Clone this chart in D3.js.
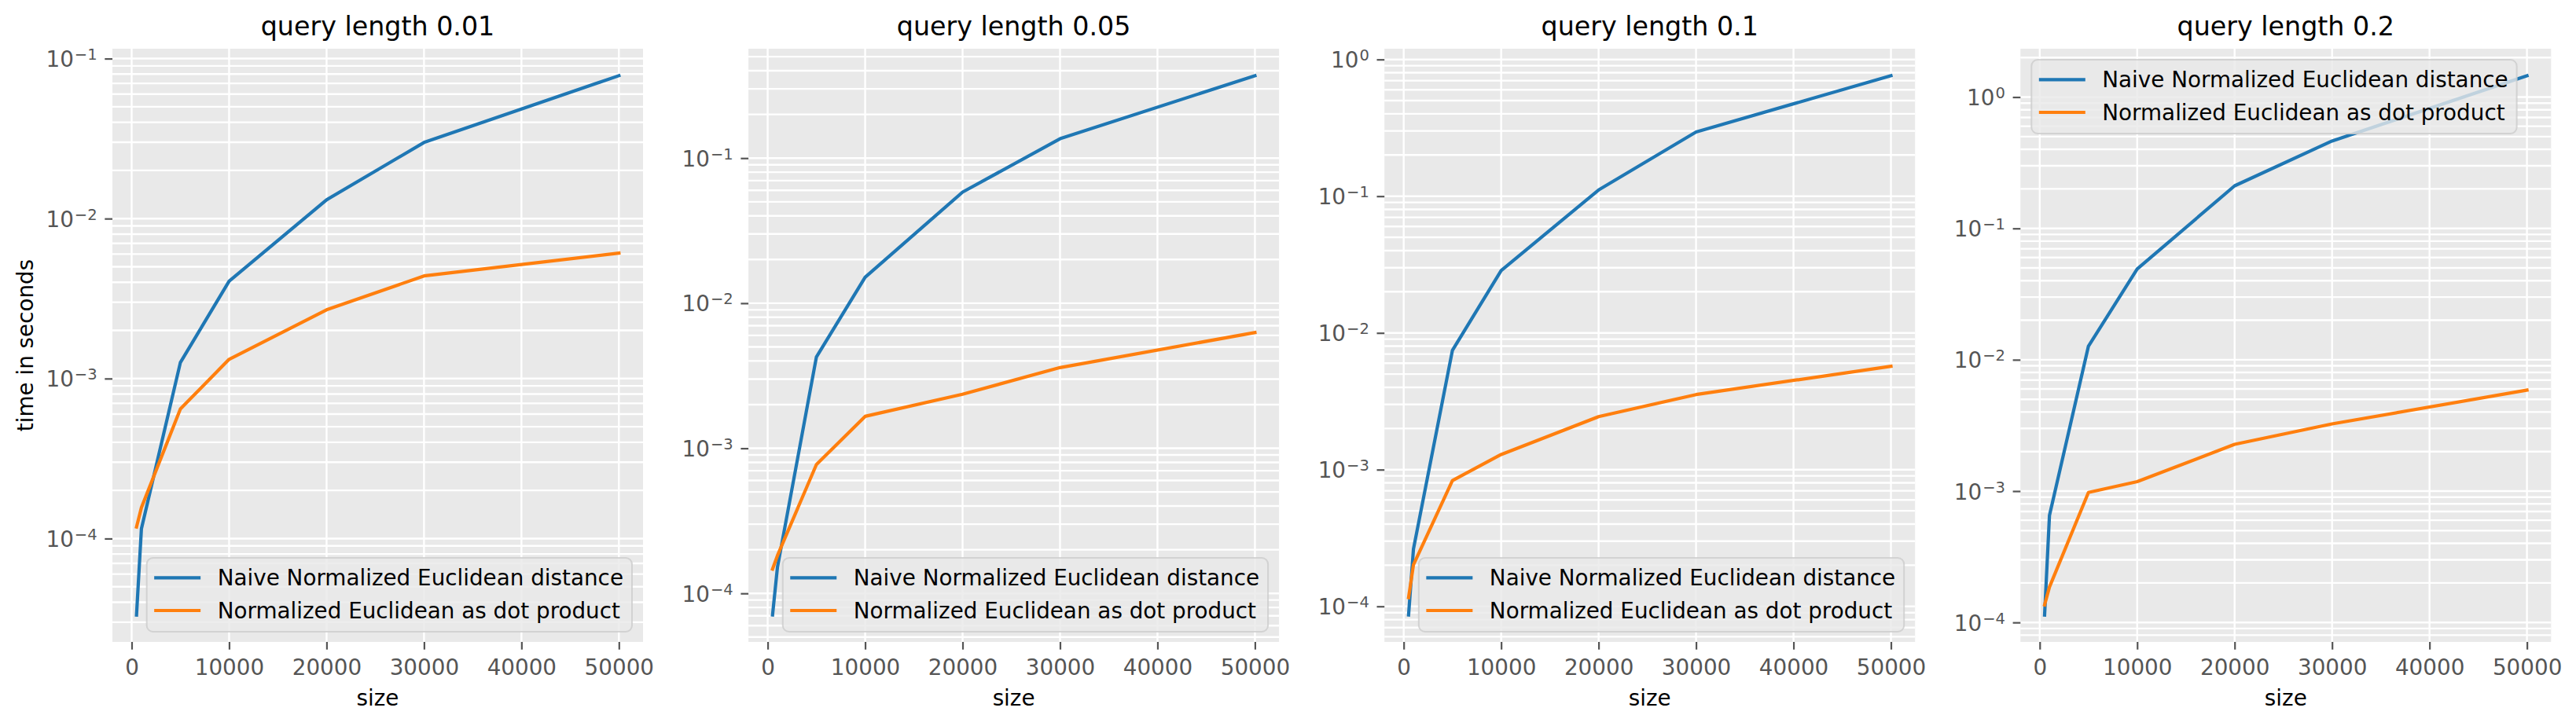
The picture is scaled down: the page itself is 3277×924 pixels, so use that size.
<!DOCTYPE html>
<html>
<head>
<meta charset="utf-8">
<script src="https://cdn.jsdelivr.net/npm/d3@7"></script>
<style>
  html, body { margin: 0; padding: 0; background: #ffffff; }
  svg { display: block; font-family: "DejaVu Sans", sans-serif; }
</style>
</head>
<body>
<div id="chart"></div>
<script>
// ---------------- data ----------------
const sizes = [500, 1000, 5000, 10000, 20000, 30000, 50000];
const queryLengths = ["0.01", "0.05", "0.1", "0.2"];
const seriesNames = ["Naive Normalized Euclidean distance", "Normalized Euclidean as dot product"];

const naive_001 = [3.33e-5, 1.15e-4, 1.26e-3, 4.06e-3, 1.31e-2, 2.99e-2, 7.82e-2];
const dot_001   = [1.18e-4, 1.56e-4, 6.46e-4, 1.32e-3, 2.69e-3, 4.38e-3, 6.08e-3];

const naive_005 = [7.1e-5, 1.51e-4, 4.26e-3, 1.51e-2, 5.83e-2, 0.136, 0.370];
const dot_005   = [1.47e-4, 1.82e-4, 7.73e-4, 1.66e-3, 2.36e-3, 3.60e-3, 6.28e-3];

const naive_01 = [8.65e-5, 2.62e-4, 7.46e-3, 2.86e-2, 0.111, 0.295, 0.761];
const dot_01   = [1.16e-4, 2.01e-4, 8.31e-4, 1.29e-3, 2.44e-3, 3.54e-3, 5.70e-3];

const naive_02 = [1.14e-4, 6.52e-4, 1.27e-2, 4.91e-2, 0.211, 0.463, 1.455];
const dot_02   = [1.36e-4, 1.86e-4, 9.76e-4, 1.18e-3, 2.27e-3, 3.25e-3, 5.87e-3];

const xTickValues = [0, 10000, 20000, 30000, 40000, 50000];
const xLabel = "size";
const yLabel = "time in seconds";

const panelSeries = [
  [naive_001, dot_001],
  [naive_005, dot_005],
  [naive_01, dot_01],
  [naive_02, dot_02]
];

// ---------------- style / layout ----------------
const W = 3277, H = 924;
const colors = ["#1f77b4", "#ff7f0e"];
const legendLoc = ["lower right", "lower right", "lower right", "upper left"];
const panelLeft0 = 143, panelStep = 809.1, panelW = 675;
const plotTop = 62, plotBottom = 817;
const bg = "#E9E9E9";
const tickColor = "#555555";
const fs = 27.8;        // 10pt @200dpi
const titleFs = 33.3;   // 12pt @200dpi
const tickLen = 9.7, tickPad = 9.7;

const svg = d3.select("#chart").append("svg")
  .attr("width", W).attr("height", H)
  .attr("viewBox", `0 0 ${W} ${H}`);
svg.append("rect").attr("width", W).attr("height", H).attr("fill", "#ffffff");

panelSeries.forEach((series, pi) => {
  const left = panelLeft0 + pi * panelStep;
  const right = left + panelW;

  // x scale with 5% margins (matplotlib autoscale)
  const xmin = d3.min(sizes), xmax = d3.max(sizes);
  const xm = 0.05 * (xmax - xmin);
  const x = d3.scaleLinear().domain([xmin - xm, xmax + xm]).range([left, right]);

  // y log scale with 5% margins in log space
  const allVals = series.flat();
  const lmin = Math.log10(d3.min(allVals)), lmax = Math.log10(d3.max(allVals));
  const lm = 0.05 * (lmax - lmin);
  const y = d3.scaleLog().domain([Math.pow(10, lmin - lm), Math.pow(10, lmax + lm)])
    .range([plotBottom, plotTop]);

  const g = svg.append("g");

  // background
  g.append("rect").attr("x", left).attr("y", plotTop)
    .attr("width", panelW).attr("height", plotBottom - plotTop).attr("fill", bg);

  // horizontal grid: decades + minors
  const d0 = Math.floor(lmin - lm), d1 = Math.ceil(lmax + lm);
  const [yLo, yHi] = y.domain();
  const gridVals = [];
  const decades = [];
  for (let k = d0; k <= d1; k++) {
    for (let m = 1; m <= 9; m++) {
      const v = m * Math.pow(10, k);
      if (v >= yLo && v <= yHi) {
        gridVals.push(v);
        if (m === 1) decades.push(k);
      }
    }
  }
  g.selectAll(".hgrid").data(gridVals).enter().append("line")
    .attr("x1", left).attr("x2", right)
    .attr("y1", d => y(d)).attr("y2", d => y(d))
    .attr("stroke", "#ffffff").attr("stroke-width", 2.4);

  // vertical grid
  g.selectAll(".vgrid").data(xTickValues).enter().append("line")
    .attr("x1", d => x(d)).attr("x2", d => x(d))
    .attr("y1", plotTop).attr("y2", plotBottom)
    .attr("stroke", "#ffffff").attr("stroke-width", 2.4);

  // lines
  const line = d3.line().x((d, i) => x(sizes[i])).y(d => y(d));
  series.forEach((vals, si) => {
    g.append("path").datum(vals)
      .attr("d", line)
      .attr("fill", "none")
      .attr("stroke", colors[si])
      .attr("stroke-width", 4.2)
      .attr("stroke-linejoin", "round")
      .attr("stroke-linecap", "square");
  });

  // x axis
  const xAxis = d3.axisBottom(x).tickValues(xTickValues).tickSize(tickLen).tickPadding(tickPad)
    .tickFormat(d3.format("d"));
  const xg = g.append("g").attr("transform", `translate(0,${plotBottom})`).call(xAxis);
  xg.select(".domain").remove();
  xg.selectAll(".tick line").attr("stroke", tickColor).attr("stroke-width", 2.2);
  xg.selectAll(".tick text")
    .attr("fill", tickColor)
    .attr("font-size", fs)
    .attr("font-family", "DejaVu Sans")
    .attr("dy", null)
    .attr("y", 859 - plotBottom);

  // y axis
  const decVals = decades.map(k => Math.pow(10, k));
  const yAxis = d3.axisLeft(y).tickValues(decVals).tickSize(tickLen).tickPadding(tickPad)
    .tickFormat(() => "");
  const yg = g.append("g").attr("transform", `translate(${left},0)`).call(yAxis);
  yg.select(".domain").remove();
  yg.selectAll(".tick line").attr("stroke", tickColor).attr("stroke-width", 2.2);
  yg.selectAll(".tick text").each(function(d) {
    const k = Math.round(Math.log10(d));
    const t = d3.select(this)
      .attr("fill", tickColor)
      .attr("font-size", fs)
      .attr("font-family", "DejaVu Sans")
      .attr("text-anchor", "end")
      .attr("x", -(tickLen + tickPad))
      .attr("dy", null)
      .attr("y", 10);
    t.text(null);
    t.append("tspan").text("10");
    t.append("tspan").attr("font-size", 19.5).attr("dy", -9)
      .attr("dx", 1)
      .text(k < 0 ? "\u2212" + (-k) : String(k));
  });

  // title
  g.append("text")
    .attr("x", (left + right) / 2).attr("y", 45)
    .attr("text-anchor", "middle")
    .attr("font-size", titleFs).attr("fill", "#000")
    .text("query length " + queryLengths[pi]);

  // x label
  g.append("text")
    .attr("x", (left + right) / 2).attr("y", 898)
    .attr("text-anchor", "middle")
    .attr("font-size", fs).attr("fill", "#000")
    .text(xLabel);

  // y label on first panel
  if (pi === 0) {
    g.append("text")
      .attr("transform", `translate(42,${(plotTop + plotBottom) / 2}) rotate(-90)`)
      .attr("text-anchor", "middle")
      .attr("font-size", fs).attr("fill", "#000")
      .text(yLabel);
  }

  // legend
  const lg = g.append("g");
  const box = lg.append("rect");
  const texts = seriesNames.map((name, si) =>
    lg.append("text").attr("font-size", fs).attr("fill", "#000").text(name));
  const tw = d3.max(texts, t => t.node().getComputedTextLength());
  const bw = tw + 101, bh = 94;
  let bx, by;
  if (legendLoc[pi] === "lower right") { bx = right - 14 - bw; by = plotBottom - 13 - bh; }
  else { bx = left + 14; by = plotTop + 14; }
  box.attr("x", bx).attr("y", by).attr("width", bw).attr("height", bh)
    .attr("rx", 8).attr("ry", 8)
    .attr("fill", bg).attr("fill-opacity", 0.8)
    .attr("stroke", "#CCCCCC").attr("stroke-opacity", 0.8).attr("stroke-width", 2);
  const rowY = [25.3, 67];
  seriesNames.forEach((name, si) => {
    const cy = by + rowY[si];
    lg.append("line")
      .attr("x1", bx + 9.5).attr("x2", bx + 68.5)
      .attr("y1", cy).attr("y2", cy)
      .attr("stroke", colors[si]).attr("stroke-width", 4.2)
      .attr("stroke-linecap", "butt");
    texts[si].attr("x", bx + 90).attr("y", cy + 10);
  });
});
</script>
</body>
</html>
